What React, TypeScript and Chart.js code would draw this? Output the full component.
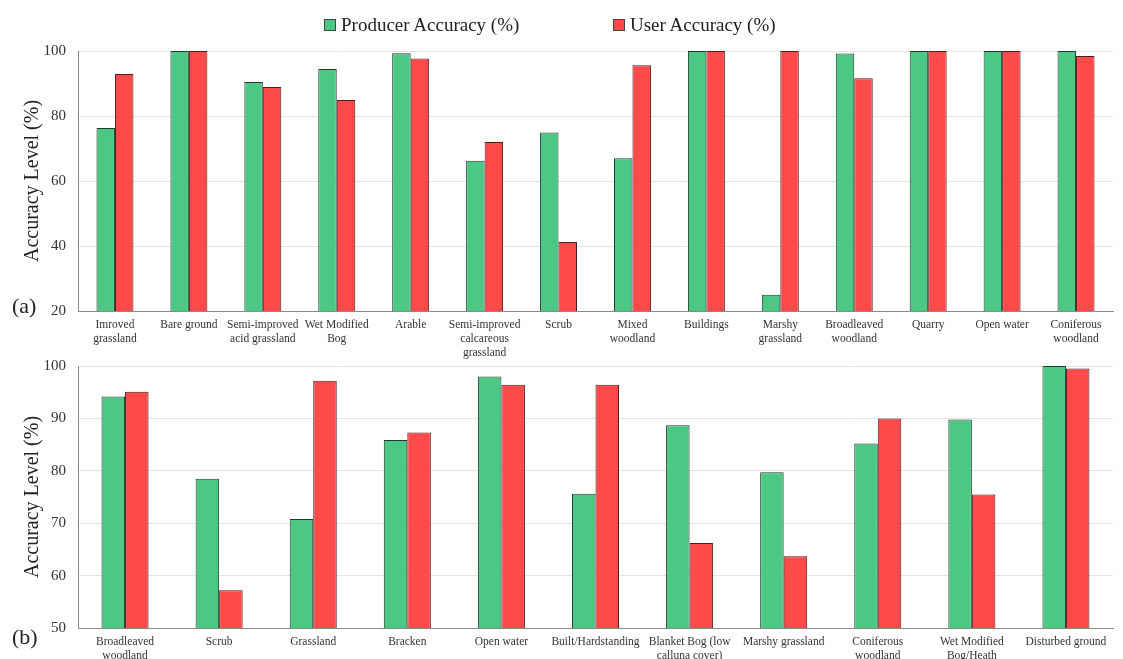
import React, { useEffect, useRef } from "react";
import { Chart, registerables } from "chart.js";

Chart.register(...registerables);

const seriesNames = ["Producer Accuracy (%)", "User Accuracy (%)"];
const seriesColors = ["#4CC885", "#FF4A4A"];

const categoriesA: string[][] = [
  ["Imroved", "grassland"],
  ["Bare ground"],
  ["Semi-improved", "acid grassland"],
  ["Wet Modified", "Bog"],
  ["Arable"],
  ["Semi-improved", "calcareous", "grassland"],
  ["Scrub"],
  ["Mixed", "woodland"],
  ["Buildings"],
  ["Marshy", "grassland"],
  ["Broadleaved", "woodland"],
  ["Quarry"],
  ["Open water"],
  ["Coniferous", "woodland"],
];
const producerA = [76.3, 100, 90.5, 94.5, 99.3, 66.2, 74.9, 67.0, 100, 25.0, 99.2, 100, 100, 100];
const userA = [92.9, 100, 88.9, 84.9, 97.7, 72.0, 41.2, 95.6, 100, 100, 91.6, 100, 100, 98.5];

const categoriesB: string[][] = [
  ["Broadleaved", "woodland"],
  ["Scrub"],
  ["Grassland"],
  ["Bracken"],
  ["Open water"],
  ["Built/Hardstanding"],
  ["Blanket Bog (low", "calluna cover)"],
  ["Marshy grassland"],
  ["Coniferous", "woodland"],
  ["Wet Modified", "Bog/Heath"],
  ["Disturbed ground"],
];
const producerB = [94.2, 78.5, 70.8, 85.9, 98.0, 75.6, 88.7, 79.7, 85.2, 89.8, 100];
const userB = [95.1, 57.2, 97.2, 87.3, 96.4, 96.4, 66.2, 63.7, 90.0, 75.5, 99.5];

const yRangeA = { min: 20, max: 100, step: 20 };
const yRangeB = { min: 50, max: 100, step: 10 };

const FONT = "'Liberation Serif', 'Times New Roman', serif";

function makeConfig(
  labels: string[][],
  producer: number[],
  user: number[],
  range: { min: number; max: number; step: number },
  padTop: number,
  xAxisHeight: number
): any {
  return {
    type: "bar",
    data: {
      labels,
      datasets: [
        {
          label: seriesNames[0],
          data: producer,
          backgroundColor: seriesColors[0],
          borderColor: "#24382b",
          borderWidth: 1,
          borderSkipped: false,
        },
        {
          label: seriesNames[1],
          data: user,
          backgroundColor: seriesColors[1],
          borderColor: "#4a1c1c",
          borderWidth: 1,
          borderSkipped: false,
        },
      ],
    },
    options: {
      responsive: false,
      animation: false,
      layout: { padding: { top: padTop, right: 10, left: 0, bottom: 0 } },
      plugins: { legend: { display: false }, tooltip: { enabled: false } },
      datasets: { bar: { categoryPercentage: 0.5, barPercentage: 1.0 } },
      scales: {
        x: {
          grid: { display: false, drawTicks: false },
          border: { display: true, color: "#8a8a8a", width: 1 },
          ticks: {
            color: "#333",
            font: { family: FONT, size: 11.5, lineHeight: 1.2 },
            padding: 7,
            maxRotation: 0,
            autoSkip: false,
          },
          afterFit: (s: any) => {
            s.height = xAxisHeight;
          },
        },
        y: {
          min: range.min,
          max: range.max,
          grid: { color: "#e4e4e4", drawTicks: false },
          border: { display: true, color: "#8a8a8a", width: 1 },
          ticks: {
            stepSize: range.step,
            color: "#333",
            font: { family: FONT, size: 15 },
            padding: 12,
          },
          title: {
            display: true,
            text: "Accuracy Level (%)",
            color: "#222",
            font: { family: FONT, size: 20 },
            padding: { top: 21, bottom: 0 },
          },
          afterFit: (s: any) => {
            s.width = 78;
          },
        },
      },
    },
  };
}

function BarChart(props: {
  labels: string[][];
  producer: number[];
  user: number[];
  range: { min: number; max: number; step: number };
  top: number;
  height: number;
  padTop: number;
  xAxisHeight: number;
}) {
  const ref = useRef<HTMLCanvasElement | null>(null);
  useEffect(() => {
    if (!ref.current) return;
    const chart = new Chart(
      ref.current,
      makeConfig(props.labels, props.producer, props.user, props.range, props.padTop, props.xAxisHeight)
    );
    return () => chart.destroy();
  }, []);
  return (
    <canvas
      ref={ref}
      width={1123}
      height={props.height}
      style={{ position: "absolute", left: 0, top: props.top, width: 1123, height: props.height }}
    />
  );
}

export default function App() {
  const legendPos = [324, 613];
  return (
    <div
      style={{
        position: "fixed",
        left: 0,
        top: 0,
        width: 1123,
        height: 659,
        overflow: "hidden",
        background: "#fff",
        fontFamily: FONT,
      }}
    >
      <BarChart labels={categoriesA} producer={producerA} user={userA} range={yRangeA} top={0} height={362} padTop={51} xAxisHeight={51} />
      <BarChart labels={categoriesB} producer={producerB} user={userB} range={yRangeB} top={330} height={345} padTop={36} xAxisHeight={47} />
      {seriesNames.map((name, i) => (
        <div
          key={name}
          style={{
            position: "absolute",
            left: legendPos[i],
            top: 14,
            display: "flex",
            alignItems: "center",
            fontSize: 19,
            color: "#222",
            whiteSpace: "nowrap",
          }}
        >
          <span
            style={{
              display: "inline-block",
              width: 10,
              height: 10,
              background: seriesColors[i],
              border: "1px solid #444",
              marginRight: 5,
            }}
          />
          <span>{name}</span>
        </div>
      ))}
      <div style={{ position: "absolute", left: 12, top: 293, fontSize: 22, color: "#222" }}>(a)</div>
      <div style={{ position: "absolute", left: 12, top: 624, fontSize: 22, color: "#222" }}>(b)</div>
    </div>
  );
}
